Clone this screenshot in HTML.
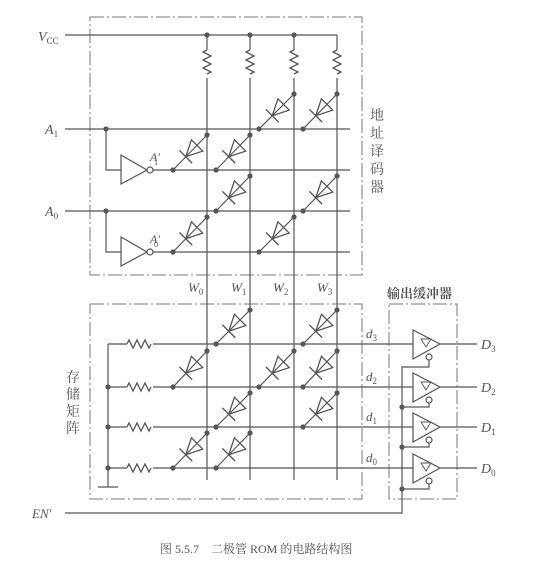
<!DOCTYPE html>
<html><head><meta charset="utf-8"><style>
html,body{margin:0;padding:0;background:#fff;}
svg{display:block}
text{font-family:"Liberation Serif","Noto Serif CJK SC",serif;fill:#555;}
.cj{font-family:"Liberation Serif","Noto Serif CJK SC",serif;fill:#555;}
</style></head><body>
<svg width="543" height="571" viewBox="0 0 543 571" xmlns="http://www.w3.org/2000/svg">
<defs>
<g id="dio" stroke="#555" stroke-width="1.3" fill="none">
<polygon points="-6,0 10,-8 10,8"/>
<line x1="-6" y1="-9" x2="-6" y2="9"/>
</g>
<path id="res" d="M0,0 l-4,2 l8,4 l-8,4 l8,4 l-8,4 l8,4 l-4,2" fill="none" stroke="#555" stroke-width="1.3"/>
<path id="resh" d="M0,0 l2,-4 l4,8 l4,-8 l4,8 l4,-8 l4,8 l2,-4" fill="none" stroke="#555" stroke-width="1.3"/>
</defs>
<g stroke="#777" stroke-width="1" fill="none" stroke-dasharray="14,3,2,3">
<rect x="90" y="17" width="272" height="258"/>
<rect x="90" y="304" width="272" height="195"/>
<rect x="389" y="304" width="68" height="195"/>
</g>
<g stroke="#555" stroke-width="1.2" fill="none">
<line x1="65" y1="35" x2="337" y2="35"/>
<line x1="207" y1="35" x2="207" y2="50"/><line x1="207" y1="78" x2="207" y2="480"/>
<line x1="250" y1="35" x2="250" y2="50"/><line x1="250" y1="78" x2="250" y2="480"/>
<line x1="294" y1="35" x2="294" y2="50"/><line x1="294" y1="78" x2="294" y2="480"/>
<line x1="337" y1="35" x2="337" y2="50"/><line x1="337" y1="78" x2="337" y2="480"/>
<line x1="65" y1="129" x2="350" y2="129"/>
<line x1="65" y1="211" x2="350" y2="211"/>
<line x1="153" y1="170" x2="350" y2="170"/>
<line x1="153" y1="252" x2="350" y2="252"/>
<polyline points="106,129 106,170 121,170"/>
<polyline points="106,211 106,252 121,252"/>
<polygon points="121,155 121,184 147,170"/>
<polygon points="121,237 121,266 147,252"/>
<circle cx="150" cy="170" r="3" fill="#fff"/>
<circle cx="150" cy="252" r="3" fill="#fff"/>
<line x1="108" y1="344" x2="127" y2="344"/><line x1="153" y1="344" x2="413" y2="344"/>
<line x1="108" y1="387" x2="127" y2="387"/><line x1="153" y1="387" x2="413" y2="387"/>
<line x1="108" y1="427" x2="127" y2="427"/><line x1="153" y1="427" x2="413" y2="427"/>
<line x1="108" y1="468" x2="127" y2="468"/><line x1="153" y1="468" x2="413" y2="468"/>
<line x1="108" y1="344" x2="108" y2="487"/>
<line x1="98" y1="487" x2="118" y2="487"/>
<line x1="259" y1="129" x2="294" y2="94"/><line x1="303" y1="129" x2="337" y2="94"/>
<line x1="173" y1="170" x2="207" y2="135"/><line x1="216" y1="170" x2="250" y2="135"/>
<line x1="216" y1="211" x2="250" y2="176"/><line x1="303" y1="211" x2="337" y2="176"/>
<line x1="173" y1="252" x2="207" y2="217"/><line x1="259" y1="252" x2="294" y2="217"/>
<line x1="216" y1="344" x2="250" y2="310"/><line x1="303" y1="344" x2="337" y2="310"/>
<line x1="173" y1="387" x2="207" y2="351"/><line x1="259" y1="387" x2="294" y2="351"/><line x1="303" y1="387" x2="337" y2="351"/>
<line x1="216" y1="427" x2="250" y2="393"/><line x1="303" y1="427" x2="337" y2="393"/>
<line x1="173" y1="468" x2="207" y2="433"/><line x1="216" y1="468" x2="250" y2="433"/>
<polygon points="413,330 413,359 440,344"/>
<polygon points="413,373 413,402 440,387"/>
<polygon points="413,413 413,442 440,427"/>
<polygon points="413,454 413,483 440,468"/>
<polygon points="421,339 431,339 426,347" stroke-width="0.9"/>
<polygon points="421,382 431,382 426,390" stroke-width="0.9"/>
<polygon points="421,422 431,422 426,430" stroke-width="0.9"/>
<polygon points="421,463 431,463 426,471" stroke-width="0.9"/>
<line x1="440" y1="344" x2="477" y2="344"/>
<line x1="440" y1="387" x2="477" y2="387"/>
<line x1="440" y1="427" x2="477" y2="427"/>
<line x1="440" y1="468" x2="477" y2="468"/>
<circle cx="429" cy="357" r="3" fill="#fff"/>
<circle cx="429" cy="400" r="3" fill="#fff"/>
<circle cx="429" cy="440" r="3" fill="#fff"/>
<circle cx="429" cy="481" r="3" fill="#fff"/>
<polyline points="429,360 429,367 402,367 402,513 65,513"/>
<polyline points="429,403 429,407 402,407"/>
<polyline points="429,443 429,447 402,447"/>
<polyline points="429,484 429,489 402,489"/>
</g>
<use href="#res" x="207" y="50"/><use href="#res" x="250" y="50"/>
<use href="#res" x="294" y="50"/><use href="#res" x="337" y="50"/>
<use href="#resh" x="127" y="344"/><use href="#resh" x="127" y="387"/>
<use href="#resh" x="127" y="427"/><use href="#resh" x="127" y="468"/>
<g>
<use href="#dio" transform="translate(276.5,111.5) rotate(-45)"/>
<use href="#dio" transform="translate(320,111.5) rotate(-45)"/>
<use href="#dio" transform="translate(190,152.5) rotate(-45)"/>
<use href="#dio" transform="translate(233,152.5) rotate(-45)"/>
<use href="#dio" transform="translate(233,193.5) rotate(-45)"/>
<use href="#dio" transform="translate(320,193.5) rotate(-45)"/>
<use href="#dio" transform="translate(190,234.5) rotate(-45)"/>
<use href="#dio" transform="translate(276.5,234.5) rotate(-45)"/>
<use href="#dio" transform="translate(233,327) rotate(-45)"/>
<use href="#dio" transform="translate(320,327) rotate(-45)"/>
<use href="#dio" transform="translate(190,369) rotate(-45)"/>
<use href="#dio" transform="translate(276.5,369) rotate(-45)"/>
<use href="#dio" transform="translate(320,369) rotate(-45)"/>
<use href="#dio" transform="translate(233,410) rotate(-45)"/>
<use href="#dio" transform="translate(320,410) rotate(-45)"/>
<use href="#dio" transform="translate(190,450.5) rotate(-45)"/>
<use href="#dio" transform="translate(233,450.5) rotate(-45)"/>
</g>
<g fill="#555">
<circle cx="207" cy="35" r="2.6"/><circle cx="250" cy="35" r="2.6"/><circle cx="294" cy="35" r="2.6"/>
<circle cx="106" cy="129" r="2.6"/><circle cx="106" cy="211" r="2.6"/>
<circle cx="259" cy="129" r="2.6"/><circle cx="294" cy="94" r="2.6"/><circle cx="303" cy="129" r="2.6"/><circle cx="337" cy="94" r="2.6"/>
<circle cx="173" cy="170" r="2.6"/><circle cx="207" cy="135" r="2.6"/><circle cx="216" cy="170" r="2.6"/><circle cx="250" cy="135" r="2.6"/>
<circle cx="216" cy="211" r="2.6"/><circle cx="250" cy="176" r="2.6"/><circle cx="303" cy="211" r="2.6"/><circle cx="337" cy="176" r="2.6"/>
<circle cx="173" cy="252" r="2.6"/><circle cx="207" cy="217" r="2.6"/><circle cx="259" cy="252" r="2.6"/><circle cx="294" cy="217" r="2.6"/>
<circle cx="216" cy="344" r="2.6"/><circle cx="250" cy="310" r="2.6"/><circle cx="303" cy="344" r="2.6"/><circle cx="337" cy="310" r="2.6"/>
<circle cx="173" cy="387" r="2.6"/><circle cx="207" cy="351" r="2.6"/><circle cx="259" cy="387" r="2.6"/><circle cx="294" cy="351" r="2.6"/><circle cx="303" cy="387" r="2.6"/><circle cx="337" cy="351" r="2.6"/>
<circle cx="216" cy="427" r="2.6"/><circle cx="250" cy="393" r="2.6"/><circle cx="303" cy="427" r="2.6"/><circle cx="337" cy="393" r="2.6"/>
<circle cx="173" cy="468" r="2.6"/><circle cx="207" cy="433" r="2.6"/><circle cx="216" cy="468" r="2.6"/><circle cx="250" cy="433" r="2.6"/>
<circle cx="108" cy="387" r="2.6"/><circle cx="108" cy="427" r="2.6"/><circle cx="108" cy="468" r="2.6"/>
<circle cx="402" cy="407" r="2.6"/><circle cx="402" cy="447" r="2.6"/><circle cx="402" cy="489" r="2.6"/>
</g>
<g font-style="italic" font-size="14">
<text x="38" y="41">V<tspan font-size="9" font-style="normal" dy="3">CC</tspan></text>
<text x="45" y="134">A<tspan font-size="9" font-style="normal" dy="3">1</tspan></text>
<text x="45" y="216">A<tspan font-size="9" font-style="normal" dy="3">0</tspan></text>
<text x="150" y="161" font-size="12">A′<tspan font-size="8" font-style="normal" dx="-6" dy="4">1</tspan></text>
<text x="150" y="243" font-size="12">A′<tspan font-size="8" font-style="normal" dx="-6" dy="4">0</tspan></text>
<text x="188" y="292" font-size="13">W<tspan font-size="9" font-style="normal" dy="3">0</tspan></text>
<text x="231" y="292" font-size="13">W<tspan font-size="9" font-style="normal" dy="3">1</tspan></text>
<text x="273" y="292" font-size="13">W<tspan font-size="9" font-style="normal" dy="3">2</tspan></text>
<text x="317" y="292" font-size="13">W<tspan font-size="9" font-style="normal" dy="3">3</tspan></text>
<text x="366" y="338" font-size="13">d<tspan font-size="9" font-style="normal" dy="3">3</tspan></text>
<text x="366" y="381" font-size="13">d<tspan font-size="9" font-style="normal" dy="3">2</tspan></text>
<text x="366" y="421" font-size="13">d<tspan font-size="9" font-style="normal" dy="3">1</tspan></text>
<text x="366" y="462" font-size="13">d<tspan font-size="9" font-style="normal" dy="3">0</tspan></text>
<text x="481" y="349">D<tspan font-size="9" font-style="normal" dy="3">3</tspan></text>
<text x="481" y="392">D<tspan font-size="9" font-style="normal" dy="3">2</tspan></text>
<text x="481" y="432">D<tspan font-size="9" font-style="normal" dy="3">1</tspan></text>
<text x="481" y="473">D<tspan font-size="9" font-style="normal" dy="3">0</tspan></text>
<text x="32" y="518" font-size="13">EN′</text>
</g>
<g font-size="14">
<text class="cj" x="370" y="120">地</text>
<text class="cj" x="370" y="138">址</text>
<text class="cj" x="370" y="156">译</text>
<text class="cj" x="370" y="174">码</text>
<text class="cj" x="370" y="192">器</text>
<text class="cj" x="66" y="382">存</text>
<text class="cj" x="66" y="399">储</text>
<text class="cj" x="66" y="416">矩</text>
<text class="cj" x="66" y="433">阵</text>
<text class="cj" x="387" y="298" font-size="13" font-weight="bold">输出缓冲器</text>
<text class="cj" x="160" y="553" font-size="12">图 5.5.7　二极管 ROM 的电路结构图</text>
</g>
</svg>
</body></html>
